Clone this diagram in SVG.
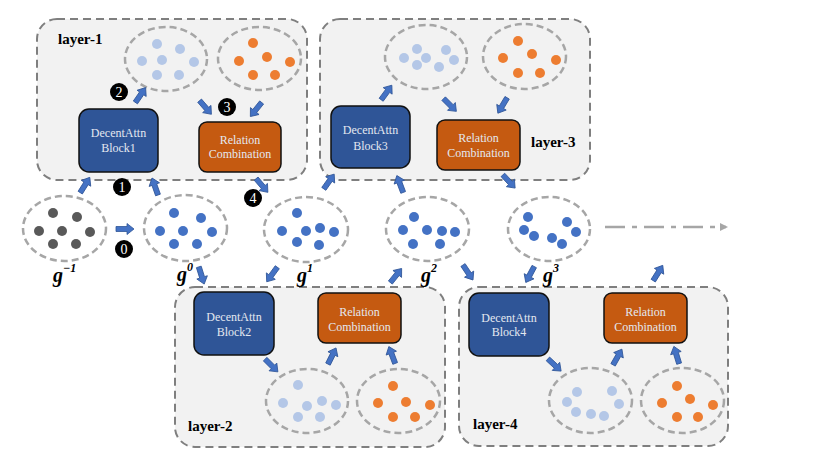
<svg xmlns="http://www.w3.org/2000/svg" xmlns:xlink="http://www.w3.org/1999/xlink" width="830" height="467" viewBox="0 0 830 467">
<style>
.layer{fill:#f2f2f2;stroke:#7f7f7f;stroke-width:2;stroke-dasharray:8,5}
.ell{fill:none;stroke:#a6a6a6;stroke-width:2.5;stroke-dasharray:7,4}
.lb{fill:#b4c7e7}.or{fill:#ed7d31}.bl{fill:#4472c4}.dk{fill:#595959}
.blk{fill:#2f5597;stroke:#111;stroke-width:1.5}
.rel{fill:#c55a11;stroke:#111;stroke-width:1.5}
text{font-family:'Liberation Serif','Times New Roman',serif}
.bt{font-size:12px;fill:#e4e8f0;text-anchor:middle}
.ll{font-size:15px;font-weight:bold;fill:#000}
.gl{font-weight:bold;font-style:italic;fill:#000}
.num{font-size:14px;fill:#fff;text-anchor:middle}
.arr{fill:#4472c4;stroke:#2f5597;stroke-width:0.8}
</style>
<defs>
<path id="ar" d="M-9,-2.5 H2 V-5.5 L9,0 L2,5.5 V2.5 H-9 Z"/>
<marker id="tri" markerWidth="8" markerHeight="8" refX="6" refY="4" orient="auto" markerUnits="userSpaceOnUse"><path d="M0,0 L8,4 L0,8 Z" fill="#a6a6a6"/></marker>
</defs>

<g id="layer-1">
<rect class="layer" x="37" y="19" width="270" height="161" rx="20"/>
<text class="ll" x="58" y="44">layer-1</text>
<ellipse class="ell" cx="166" cy="59" rx="41" ry="32"/>
<g class="lb"><circle cx="157" cy="44" r="5"/><circle cx="180" cy="49" r="5"/><circle cx="142" cy="61" r="5"/><circle cx="162" cy="60" r="5"/><circle cx="194" cy="62" r="5"/><circle cx="157" cy="75" r="5"/><circle cx="179" cy="75" r="5"/></g>
<ellipse class="ell" cx="259.5" cy="58.5" rx="41.5" ry="31.5"/>
<g class="or"><circle cx="253" cy="43" r="5"/><circle cx="239" cy="61" r="5"/><circle cx="267" cy="57" r="5"/><circle cx="290" cy="62" r="5"/><circle cx="253" cy="75" r="5"/><circle cx="275" cy="75" r="5"/></g>
<rect class="blk" x="79" y="109" width="79" height="63" rx="10"/>
<text class="bt" x="118.5" y="137">DecentAttn</text><text class="bt" x="118.5" y="152">Block1</text>
<rect class="rel" x="199" y="122" width="82" height="50" rx="8"/>
<text class="bt" x="240" y="144">Relation</text><text class="bt" x="240" y="158">Combination</text>
</g>

<g id="layer-3">
<rect class="layer" x="320" y="19" width="270" height="161" rx="20"/>
<text class="ll" x="531" y="147">layer-3</text>
<ellipse class="ell" cx="426" cy="57" rx="41" ry="32"/>
<g class="lb"><circle cx="404" cy="58" r="5"/><circle cx="417" cy="49" r="5"/><circle cx="426" cy="58" r="5"/><circle cx="417" cy="65" r="5"/><circle cx="446" cy="50" r="5"/><circle cx="454" cy="60" r="5"/><circle cx="439" cy="67" r="5"/></g>
<ellipse class="ell" cx="524.5" cy="56.5" rx="41.5" ry="32.5"/>
<g class="or"><circle cx="518" cy="41" r="5"/><circle cx="503" cy="58" r="5"/><circle cx="532" cy="54" r="5"/><circle cx="556" cy="60" r="5"/><circle cx="518" cy="73" r="5"/><circle cx="540" cy="73" r="5"/></g>
<rect class="blk" x="331" y="106" width="79" height="62" rx="10"/>
<text class="bt" x="370.5" y="134">DecentAttn</text><text class="bt" x="370.5" y="150">Block3</text>
<rect class="rel" x="437" y="120" width="83" height="50" rx="8"/>
<text class="bt" x="478.5" y="142">Relation</text><text class="bt" x="478.5" y="157">Combination</text>
</g>

<g id="layer-2">
<rect class="layer" x="175" y="287" width="270" height="160" rx="20"/>
<text class="ll" x="188" y="431">layer-2</text>
<rect class="blk" x="194" y="292" width="80" height="63" rx="10"/>
<text class="bt" x="234" y="321">DecentAttn</text><text class="bt" x="234" y="336">Block2</text>
<rect class="rel" x="318" y="293" width="83" height="50" rx="8"/>
<text class="bt" x="359.5" y="316">Relation</text><text class="bt" x="359.5" y="331">Combination</text>
<ellipse class="ell" cx="307" cy="401" rx="41" ry="32"/>
<g class="lb"><circle cx="298" cy="385" r="5"/><circle cx="283" cy="403" r="5"/><circle cx="307" cy="406" r="5"/><circle cx="322" cy="401" r="5"/><circle cx="336" cy="405" r="5"/><circle cx="298" cy="417" r="5"/><circle cx="320" cy="417" r="5"/></g>
<ellipse class="ell" cx="398.5" cy="401" rx="41.5" ry="32"/>
<g class="or"><circle cx="393" cy="386" r="5"/><circle cx="378" cy="403" r="5"/><circle cx="406" cy="402" r="5"/><circle cx="430" cy="405" r="5"/><circle cx="393" cy="417" r="5"/><circle cx="415" cy="417" r="5"/></g>
</g>

<g id="layer-4">
<rect class="layer" x="459" y="287" width="269" height="159" rx="20"/>
<text class="ll" x="473" y="429">layer-4</text>
<rect class="blk" x="469" y="293" width="80" height="63" rx="10"/>
<text class="bt" x="509" y="322">DecentAttn</text><text class="bt" x="509" y="336">Block4</text>
<rect class="rel" x="604" y="293" width="83" height="50" rx="8"/>
<text class="bt" x="645.5" y="316">Relation</text><text class="bt" x="645.5" y="331">Combination</text>
<ellipse class="ell" cx="590.5" cy="400.5" rx="41.5" ry="32.5"/>
<g class="lb"><circle cx="577" cy="392" r="5"/><circle cx="567" cy="402" r="5"/><circle cx="576" cy="412" r="5"/><circle cx="591" cy="414" r="5"/><circle cx="604" cy="416" r="5"/><circle cx="612" cy="391" r="5"/><circle cx="619" cy="404" r="5"/></g>
<ellipse class="ell" cx="682.5" cy="400.5" rx="41.5" ry="32.5"/>
<g class="or"><circle cx="677" cy="386" r="5"/><circle cx="662" cy="403" r="5"/><circle cx="690" cy="399" r="5"/><circle cx="713" cy="405" r="5"/><circle cx="677" cy="417" r="5"/><circle cx="698" cy="417" r="5"/></g>
</g>

<g id="g-1">
<ellipse class="ell" cx="64.5" cy="228.5" rx="41.5" ry="32.5"/>
<g class="dk"><circle cx="53" cy="213" r="5"/><circle cx="77" cy="217" r="5"/><circle cx="39" cy="231" r="5"/><circle cx="62" cy="231" r="5"/><circle cx="90" cy="232" r="5"/><circle cx="53" cy="244" r="5"/><circle cx="76" cy="244" r="5"/></g>
<text class="gl" x="53" y="282" font-size="20">g<tspan font-size="12" dy="-10">−1</tspan></text>
</g>
<g id="g0">
<ellipse class="ell" cx="185.5" cy="228" rx="41.5" ry="33"/>
<g class="bl"><circle cx="174" cy="213" r="5"/><circle cx="201" cy="218" r="5"/><circle cx="160" cy="231" r="5"/><circle cx="183" cy="231" r="5"/><circle cx="212" cy="232" r="5"/><circle cx="174" cy="244" r="5"/><circle cx="197" cy="244" r="5"/></g>
<text class="gl" x="177" y="281" font-size="20">g<tspan font-size="12" dy="-10">0</tspan></text>
</g>
<g id="g1">
<ellipse class="ell" cx="306" cy="229.5" rx="42" ry="32.5"/>
<g class="bl"><circle cx="297" cy="213" r="5"/><circle cx="282" cy="231" r="5"/><circle cx="306" cy="231" r="5"/><circle cx="320" cy="228" r="5"/><circle cx="334" cy="232" r="5"/><circle cx="297" cy="242" r="5"/><circle cx="319" cy="245" r="5"/></g>
<text class="gl" x="297" y="282" font-size="20">g<tspan font-size="12" dy="-10">1</tspan></text>
</g>
<g id="g2">
<ellipse class="ell" cx="427.5" cy="229" rx="41.5" ry="32"/>
<g class="bl"><circle cx="414" cy="217" r="5"/><circle cx="403" cy="230" r="5"/><circle cx="427" cy="230" r="5"/><circle cx="442" cy="231" r="5"/><circle cx="455" cy="232" r="5"/><circle cx="413" cy="244" r="5"/><circle cx="440" cy="244" r="5"/></g>
<text class="gl" x="421" y="282" font-size="20">g<tspan font-size="12" dy="-10">2</tspan></text>
</g>
<g id="g3">
<ellipse class="ell" cx="549" cy="229" rx="41" ry="32"/>
<g class="bl"><circle cx="528" cy="217" r="5"/><circle cx="524" cy="230" r="5"/><circle cx="534" cy="236" r="5"/><circle cx="567" cy="222" r="5"/><circle cx="576" cy="232" r="5"/><circle cx="552" cy="238" r="5"/><circle cx="562" cy="244" r="5"/></g>
<text class="gl" x="543" y="282" font-size="20">g<tspan font-size="12" dy="-10">3</tspan></text>
</g>

<g id="steps">
<circle cx="119" cy="92" r="9"/><text class="num" x="119" y="97">2</text>
<circle cx="227" cy="107" r="9"/><text class="num" x="227" y="112">3</text>
<circle cx="122" cy="187" r="9"/><text class="num" x="122" y="192">1</text>
<circle cx="253" cy="198" r="9"/><text class="num" x="253" y="203">4</text>
<circle cx="124" cy="249" r="9"/><text class="num" x="124" y="254">0</text>
</g>

<g id="connectors" class="arr">
<use xlink:href="#ar" transform="translate(140.5,95) rotate(-55.5)"/>
<use xlink:href="#ar" transform="translate(205.5,107.5) rotate(49)"/>
<use xlink:href="#ar" transform="translate(256,109.5) rotate(128.7)"/>
<use xlink:href="#ar" transform="translate(85,185) rotate(-58)"/>
<use xlink:href="#ar" transform="translate(155,186.5) rotate(-109.4)"/>
<use xlink:href="#ar" transform="translate(262,185.5) rotate(49.4)"/>
<use xlink:href="#ar" transform="translate(125,229) rotate(0)"/>
<use xlink:href="#ar" transform="translate(201.5,275.5) rotate(72.6)"/>
<use xlink:href="#ar" transform="translate(272,274.5) rotate(126)"/>
<use xlink:href="#ar" transform="translate(329,181.5) rotate(-54.8)"/>
<use xlink:href="#ar" transform="translate(400,184) rotate(-110.6)"/>
<use xlink:href="#ar" transform="translate(509,181.5) rotate(47)"/>
<use xlink:href="#ar" transform="translate(396,275.5) rotate(-51.3)"/>
<use xlink:href="#ar" transform="translate(468,272.5) rotate(56.3)"/>
<use xlink:href="#ar" transform="translate(530,274.5) rotate(118)"/>
<use xlink:href="#ar" transform="translate(658,273) rotate(-58)"/>
<use xlink:href="#ar" transform="translate(386.5,92.5) rotate(-53.7)"/>
<use xlink:href="#ar" transform="translate(450,105) rotate(45)"/>
<use xlink:href="#ar" transform="translate(502.5,105.5) rotate(121)"/>
<use xlink:href="#ar" transform="translate(271.5,365.5) rotate(45)"/>
<use xlink:href="#ar" transform="translate(332,356) rotate(-63.4)"/>
<use xlink:href="#ar" transform="translate(392,355) rotate(-110.6)"/>
<use xlink:href="#ar" transform="translate(554.5,365) rotate(42.7)"/>
<use xlink:href="#ar" transform="translate(617.5,357) rotate(-60.6)"/>
<use xlink:href="#ar" transform="translate(676.5,355) rotate(-107)"/>
<path d="M605,227 H726" fill="none" stroke="#a6a6a6" stroke-width="2.5" stroke-dasharray="20,7,5,7" marker-end="url(#tri)"/>
</g>
</svg>
